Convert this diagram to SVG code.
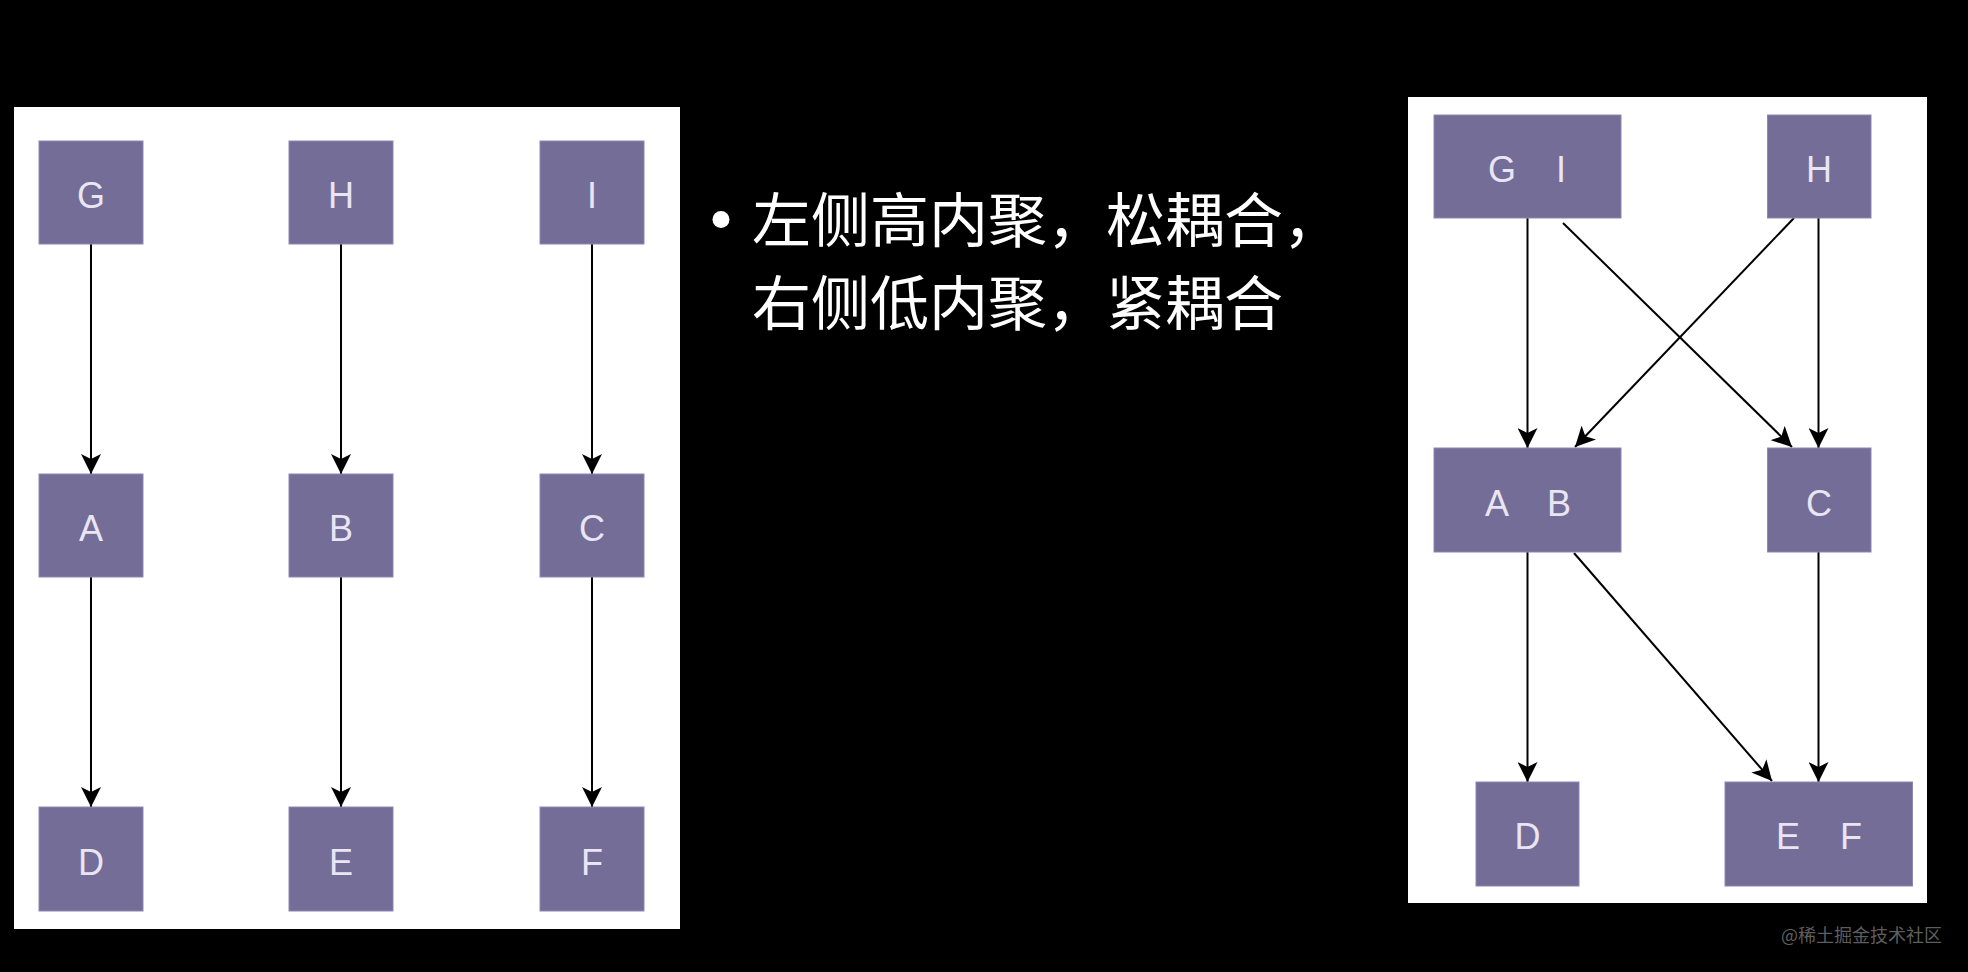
<svg xmlns="http://www.w3.org/2000/svg" width="1968" height="972" viewBox="0 0 1968 972">
<style>
.panel{fill:#ffffff}
.node rect{fill:#736d98;stroke:#8d87b3;stroke-width:1}
.node text{fill:#e9e5f3;font-family:"Liberation Sans",Arial,sans-serif;font-size:36px;text-anchor:middle;white-space:pre}
.conn line{stroke:#000;stroke-width:2;fill:none;marker-end:url(#arr)}
.cjk{fill:#ffffff;font-family:"Noto Sans CJK SC","Noto Sans",sans-serif;font-size:59px}
.wm{fill:#5e5e5e;font-family:"Noto Sans CJK SC","Noto Sans",sans-serif;font-size:18px}
</style>
<defs>
<marker id="arr" viewBox="0 0 20 20" refX="20" refY="10" markerWidth="20" markerHeight="20" markerUnits="userSpaceOnUse" orient="auto">
<path d="M0,0 L20,10 L0,20 L5,10 Z" fill="#000"/>
</marker>
</defs>
<rect x="0" y="0" width="1968" height="972" fill="#000"/>
<rect class="panel" x="14" y="107" width="666" height="822"/>
<rect class="panel" x="1408" y="97" width="519" height="806"/>

<g id="connectors-left" class="conn">
<line x1="91" y1="244" x2="91" y2="474"/>
<line x1="341" y1="244" x2="341" y2="474"/>
<line x1="592" y1="244" x2="592" y2="474"/>
<line x1="91" y1="577" x2="91" y2="807"/>
<line x1="341" y1="577" x2="341" y2="807"/>
<line x1="592" y1="577" x2="592" y2="807"/>
</g>

<g id="L-G" class="node"><rect x="39" y="141" width="104" height="103"/><text x="91" y="208">G</text></g>
<g id="L-H" class="node"><rect x="289" y="141" width="104" height="103"/><text x="341" y="208">H</text></g>
<g id="L-I" class="node"><rect x="540" y="141" width="104" height="103"/><text x="592" y="208">I</text></g>
<g id="L-A" class="node"><rect x="39" y="474" width="104" height="103"/><text x="91" y="541">A</text></g>
<g id="L-B" class="node"><rect x="289" y="474" width="104" height="103"/><text x="341" y="541">B</text></g>
<g id="L-C" class="node"><rect x="540" y="474" width="104" height="103"/><text x="592" y="541">C</text></g>
<g id="L-D" class="node"><rect x="39" y="807" width="104" height="104"/><text x="91" y="875">D</text></g>
<g id="L-E" class="node"><rect x="289" y="807" width="104" height="104"/><text x="341" y="875">E</text></g>
<g id="L-F" class="node"><rect x="540" y="807" width="104" height="104"/><text x="592" y="875">F</text></g>

<g id="bullet-text">
<circle cx="721" cy="219.5" r="8.5" fill="#fff"/>
<text class="cjk" x="752" y="242">左侧高内聚，松耦合，</text>
<text class="cjk" x="752" y="325">右侧低内聚，紧耦合</text>
</g>

<g id="connectors-right" class="conn">
<line x1="1527.5" y1="218" x2="1527.5" y2="448"/>
<line x1="1563" y1="223" x2="1792" y2="447"/>
<line x1="1794" y1="218" x2="1575" y2="447"/>
<line x1="1818.5" y1="218" x2="1818.5" y2="448"/>
<line x1="1527.5" y1="552" x2="1527.5" y2="782"/>
<line x1="1574" y1="553" x2="1772" y2="781"/>
<line x1="1818.5" y1="552" x2="1818.5" y2="782"/>
</g>

<g id="R-GI" class="node"><rect x="1434" y="115" width="187" height="103"/><text x="1527" y="182">G    I</text></g>
<g id="R-H" class="node"><rect x="1767.5" y="115" width="103.5" height="103"/><text x="1819" y="182">H</text></g>
<g id="R-AB" class="node"><rect x="1434" y="448" width="187" height="104"/><text x="1528" y="516">A    B</text></g>
<g id="R-C" class="node"><rect x="1767.5" y="448" width="103.5" height="104"/><text x="1819" y="516">C</text></g>
<g id="R-D" class="node"><rect x="1476" y="782" width="103" height="104"/><text x="1527.5" y="849">D</text></g>
<g id="R-EF" class="node"><rect x="1725" y="782" width="187.5" height="104"/><text x="1819" y="849">E    F</text></g>

<text class="wm" x="1781" y="942">@稀土掘金技术社区</text>
</svg>
